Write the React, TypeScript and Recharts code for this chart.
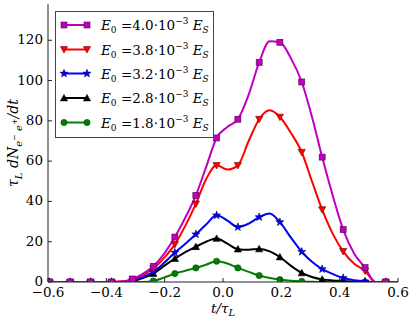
import React from 'react';
import { LineChart, Line, XAxis, YAxis } from 'recharts';

const tVals = [-0.595, -0.56, -0.524, -0.489, -0.454, -0.418, -0.382, -0.346, -0.31, -0.275, -0.239, -0.202, -0.165, -0.129, -0.093, -0.058, -0.022, 0.015, 0.051, 0.088, 0.124, 0.16, 0.195, 0.233, 0.27, 0.305, 0.34, 0.376, 0.412, 0.45, 0.487, 0.5225, 0.558, 0.6];
const markerFlags = [1, 0, 1, 0, 1, 0, 1, 0, 1, 0, 1, 0, 1, 0, 1, 0, 1, 0, 1, 0, 1, 0, 1, 0, 1, 0, 1, 0, 1, 0, 1, 0, 1, 0];

const e40 = [0, 0, 0, 0, 0, 0, 0, 0.2, 1.5, 4, 7.8, 14, 22.3, 32, 43, 57, 71.5, 77, 80.8, 93, 109, 119.5, 119, 111, 99.3, 82, 62, 43, 26, 14, 7.1, 0, 0, 0];
const e38 = [0, 0, 0, 0, 0, 0, 0, 0.2, 1.2, 3.5, 6.6, 12, 18.7, 28, 38.8, 51, 57.9, 55.8, 57.9, 70, 80.8, 85.2, 81.9, 74, 64.4, 50, 35.9, 24, 15.2, 9, 5.5, 0, 0, 0];
const e32 = [0, 0, 0, 0, 0, 0, 0, 0.1, 0.8, 2.5, 5, 9.5, 14.6, 19, 23.7, 28.5, 33.1, 30.5, 27.3, 29, 32.2, 34, 29.7, 22, 15, 10, 6.4, 4, 2, 0.9, 0.3, 0, 0, 0];
const e28 = [0, 0, 0, 0, 0, 0, 0, 0, 0.5, 2, 4.2, 8, 11.6, 14.8, 17.5, 20, 21.6, 19, 16.3, 16, 16.4, 15.2, 12.4, 8, 4.5, 2.5, 1.3, 0.8, 0.5, 0.2, 0, 0, 0, 0];
const e18 = [0, 0, 0, 0, 0, 0, 0, 0, 0, 0, 0.5, 2.2, 4.2, 5.6, 7, 8.6, 10.3, 9.2, 7, 5, 3.2, 2, 1.2, 0.6, 0.3, 0.1, 0, 0, 0, 0, 0, 0, 0, 0];

const xTicks = [-0.6, -0.4, -0.2, 0, 0.2, 0.4, 0.6];
const yTicks = [0, 20, 40, 60, 80, 100, 120];
const xTickLabels = ['\u22120.6', '\u22120.4', '\u22120.2', '0.0', '0.2', '0.4', '0.6'];
const legendValues = ['4.0', '3.8', '3.2', '2.8', '1.8'];

const rows = tVals.map((t, i) => ({ t, m: markerFlags[i], e40: e40[i], e38: e38[i], e32: e32[i], e28: e28[i], e18: e18[i] }));

const FONT = 'DejaVu Serif';
const AX = '#222';

type Shape = 'square' | 'tdown' | 'star' | 'tup' | 'circle';

function Marker({ shape, cx, cy, color, edge }: { shape: Shape; cx: number; cy: number; color: string; edge: string }) {
  const sw = 0.6;
  if (shape === 'square') {
    return <rect x={cx - 3} y={cy - 3} width={6} height={6} fill={color} stroke={edge} strokeWidth={sw} />;
  }
  if (shape === 'circle') {
    return <circle cx={cx} cy={cy} r={3.1} fill={color} stroke={edge} strokeWidth={sw} />;
  }
  if (shape === 'tdown') {
    const r = 3.6;
    return <polygon points={`${cx - r},${cy - r * 0.8} ${cx + r},${cy - r * 0.8} ${cx},${cy + r}`} fill={color} stroke={edge} strokeWidth={sw} />;
  }
  if (shape === 'tup') {
    const r = 3.6;
    return <polygon points={`${cx - r},${cy + r * 0.8} ${cx + r},${cy + r * 0.8} ${cx},${cy - r}`} fill={color} stroke={edge} strokeWidth={sw} />;
  }
  const pts: string[] = [];
  const ro = 4.2, ri = 1.7;
  for (let k = 0; k < 10; k++) {
    const a = -Math.PI / 2 + (k * Math.PI) / 5;
    const rr = k % 2 === 0 ? ro : ri;
    pts.push(`${cx + rr * Math.cos(a)},${cy + rr * Math.sin(a)}`);
  }
  return <polygon points={pts.join(' ')} fill={color} stroke={edge} strokeWidth={sw} />;
}

const makeDot = (shape: Shape, color: string, edge: string) => (props: any) => {
  const { cx, cy, payload, index } = props;
  if (!payload || !payload.m || cx == null || cy == null) return <g key={`d${index}`} />;
  return <g key={`d${index}`}><Marker shape={shape} cx={cx} cy={cy} color={color} edge={edge} /></g>;
};

const series = [
  { key: 'e18', color: '#008000', edge: '#004000', shape: 'circle' as Shape },
  { key: 'e28', color: '#000000', edge: '#000000', shape: 'tup' as Shape },
  { key: 'e32', color: '#0000ff', edge: '#000060', shape: 'star' as Shape },
  { key: 'e38', color: '#ff0000', edge: '#700000', shape: 'tdown' as Shape },
  { key: 'e40', color: '#bf00bf', edge: '#500050', shape: 'square' as Shape },
];
const legendOrder = [4, 3, 2, 1, 0];

const XTickBottom = (props: any) => {
  const { x, y, payload } = props;
  const idx = xTicks.indexOf(payload.value);
  return (
    <g>
      <line x1={x} y1={y} x2={x} y2={y - 4} stroke={AX} strokeWidth={1} />
      <text x={x} y={y + 15} textAnchor="middle" fontFamily={FONT} fontSize={13.5} fill="#000">{idx >= 0 ? xTickLabels[idx] : payload.value}</text>
    </g>
  );
};
const XTickTop = (props: any) => {
  const { x, y } = props;
  return <line x1={x} y1={y} x2={x} y2={y + 4} stroke={AX} strokeWidth={1} />;
};
const YTickLeft = (props: any) => {
  const { x, y, payload } = props;
  return (
    <g>
      <line x1={x} y1={y} x2={x + 4} y2={y} stroke={AX} strokeWidth={1} />
      <text x={x - 5} y={y + 4} textAnchor="end" fontFamily={FONT} fontSize={13.5} fill="#000">{payload.value}</text>
    </g>
  );
};
const YTickRight = (props: any) => {
  const { x, y } = props;
  return <line x1={x} y1={y} x2={x - 4} y2={y} stroke={AX} strokeWidth={1} />;
};

const XLabel = (props: any) => {
  const vb = props.viewBox || { x: 48, y: 282, width: 350, height: 36 };
  const cx = vb.x + vb.width / 2;
  const y = vb.y + 31;
  return (
    <text x={cx} y={y} textAnchor="middle" fontFamily={FONT} fontSize={13.5} fontStyle="italic" fill="#000">
      <tspan>t/τ</tspan>
      <tspan dy={3} fontSize={10}>L</tspan>
    </text>
  );
};

const YLabel = (props: any) => {
  const vb = props.viewBox || { x: 0, y: 4, width: 48, height: 278 };
  const x = vb.x + 18;
  const cy = vb.y + vb.height / 2;
  return (
    <text x={x} y={cy} transform={`rotate(-90 ${x} ${cy})`} textAnchor="middle" fontFamily={FONT} fontSize={14} fontStyle="italic" fill="#000">
      <tspan>τ</tspan>
      <tspan dy={4} fontSize={10}>L</tspan>
      <tspan dy={-4}> dN</tspan>
      <tspan dy={4} fontSize={10}>e</tspan>
      <tspan dy={-5} fontSize={8} fontStyle="normal">−</tspan>
      <tspan dy={5} fontSize={10}> e</tspan>
      <tspan dy={-5} fontSize={8} fontStyle="normal">+</tspan>
      <tspan dy={1}>/dt</tspan>
    </text>
  );
};

const LegendBox = () => {
  const rowY = [14, 38.5, 62.5, 87, 111.5];
  return (
    <svg width={160} height={128} style={{ position: 'absolute', left: 55, top: 11 }}>
      <rect x={0.5} y={0.5} width={158} height={126} fill="#fff" stroke="#444" strokeWidth={1} />
      {legendOrder.map((si, r) => {
        const s = series[si];
        const cy = rowY[r];
        return (
          <g key={s.key}>
            <line x1={9} y1={cy} x2={32} y2={cy} stroke={s.color} strokeWidth={2} />
            <Marker shape={s.shape} cx={9} cy={cy} color={s.color} edge={s.edge} />
            <Marker shape={s.shape} cx={32} cy={cy} color={s.color} edge={s.edge} />
            <text x={46} y={cy + 5} fontFamily={FONT} fontSize={13.5} fill="#000">
              <tspan fontStyle="italic">E</tspan>
              <tspan dy={3} fontSize={9}>0</tspan>
              <tspan dy={-3}> =</tspan>
              <tspan>{legendValues[r]}·10</tspan>
              <tspan dy={-6} fontSize={9}>−3</tspan>
              <tspan dy={6}> </tspan>
              <tspan fontStyle="italic">E</tspan>
              <tspan dy={3} fontSize={9} fontStyle="italic">S</tspan>
            </text>
          </g>
        );
      })}
    </svg>
  );
};

export default function App() {
  return (
    <div style={{ position: 'absolute', left: 0, top: 0, width: 411, height: 318, background: '#fff' }}>
      <LineChart width={411} height={318} data={rows} margin={{ top: 4, right: 13, bottom: 0, left: 0 }}>
        <XAxis xAxisId="b" dataKey="t" type="number" domain={[-0.6, 0.6]} ticks={xTicks} orientation="bottom" height={36}
          tickSize={0} tickMargin={0} tickLine={false} axisLine={{ stroke: AX, strokeWidth: 1 }} tick={<XTickBottom />} interval={0}
          allowDataOverflow label={{ content: (p: any) => <XLabel {...p} /> }} />
        <XAxis xAxisId="t" dataKey="t" type="number" domain={[-0.6, 0.6]} ticks={xTicks} orientation="top" height={0}
          tickSize={0} tickMargin={0} tickLine={false} axisLine={{ stroke: AX, strokeWidth: 1 }} tick={<XTickTop />} interval={0} allowDataOverflow />
        <YAxis yAxisId="l" type="number" domain={[0, 138]} ticks={yTicks} width={48} tickSize={0} tickMargin={0} tickLine={false}
          axisLine={{ stroke: AX, strokeWidth: 1 }} tick={<YTickLeft />} interval={0} allowDataOverflow
          label={{ content: (p: any) => <YLabel {...p} /> }} />
        <YAxis yAxisId="r" type="number" orientation="right" domain={[0, 138]} ticks={yTicks} width={0} tickSize={0} tickMargin={0} tickLine={false}
          axisLine={{ stroke: AX, strokeWidth: 1 }} tick={<YTickRight />} interval={0} allowDataOverflow />
        {series.map((s) => (
          <Line key={s.key} xAxisId="b" yAxisId="l" dataKey={s.key} type="monotone" stroke={s.color} strokeWidth={2}
            dot={makeDot(s.shape, s.color, s.edge)} activeDot={false} isAnimationActive={false} />
        ))}
      </LineChart>
      <LegendBox />
    </div>
  );
}
